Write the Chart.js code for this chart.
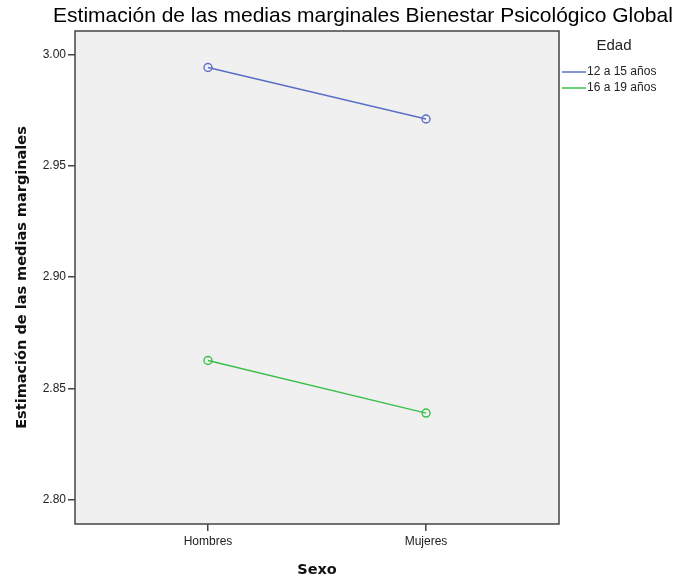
<!DOCTYPE html>
<html>
<head>
    <meta charset="utf-8">
    <title>Estimación de las medias marginales</title>
    <script src="https://cdn.jsdelivr.net/npm/chart.js@4/dist/chart.umd.min.js"></script>
    <style>
        body { margin: 0; background: #fff; }
        #wrap { width: 678px; height: 577px; }
    </style>
</head>
<body>
    <div id="wrap"><canvas id="medias"></canvas></div>
    <script>
        // datos
        var sexo = ['Hombres', 'Mujeres'];
        var edad = ['12 a 15 años', '16 a 19 años'];
        var medias1215 = [2.9941, 2.9710];
        var medias1619 = [2.8626, 2.8390];
        var yTicks = [2.80, 2.85, 2.90, 2.95, 3.00];
        var colores = ['#5a6fc6', '#3cbf4a'];

        var titulo = 'Estimación de las medias marginales Bienestar Psicológico Global';
        var txtFont = '"Liberation Sans", Arial, sans-serif';

        function puntos(vals) {
            return vals.map(function (v, i) { return { x: i, y: v }; });
        }

        var series = [medias1215, medias1619].map(function (vals, i) {
            return {
                label: edad[i],
                data: puntos(vals),
                borderColor: colores[i],
                backgroundColor: 'rgba(0,0,0,0)',
                borderWidth: 1.4,
                pointRadius: 4,
                pointBorderWidth: 1.4,
                pointHoverRadius: 4,
                tension: 0
            };
        });

        // fondo gris, marco, titulo y leyenda al estilo SPSS
        var decorado = {
            id: 'decorado',
            beforeDraw: function (chart) {
                var a = chart.chartArea, ctx = chart.ctx;
                ctx.save();
                ctx.fillStyle = '#f0f0f0';
                ctx.fillRect(a.left, a.top, a.right - a.left, a.bottom - a.top);
                ctx.restore();
            },
            afterDraw: function (chart) {
                var a = chart.chartArea, ctx = chart.ctx;
                ctx.save();
                ctx.strokeStyle = '#444';
                ctx.lineWidth = 1.5;
                ctx.strokeRect(a.left, a.top, a.right - a.left, a.bottom - a.top);

                ctx.fillStyle = '#000';
                ctx.font = '21px ' + txtFont;
                ctx.textAlign = 'center';
                ctx.textBaseline = 'middle';
                ctx.fillText(titulo, 363, 16);

                // leyenda
                ctx.fillStyle = '#222';
                ctx.font = '15px ' + txtFont;
                ctx.fillText('Edad', 614, 46);
                ctx.font = '12px ' + txtFont;
                ctx.textAlign = 'left';
                chart.data.datasets.forEach(function (ds, i) {
                    var y = 72 + i * 16;
                    ctx.strokeStyle = ds.borderColor;
                    ctx.lineWidth = 1.5;
                    ctx.beginPath();
                    ctx.moveTo(562, y);
                    ctx.lineTo(586, y);
                    ctx.stroke();
                    ctx.fillText(ds.label, 587, y);
                });
                ctx.restore();
            }
        };

        var ctx = document.getElementById('medias').getContext('2d');
        var grafico = new Chart(ctx, {
            type: 'line',
            data: { datasets: series },
            options: {
                responsive: true,
                maintainAspectRatio: false,
                animation: false,
                layout: { padding: { top: 31, right: 119, left: 0, bottom: 0 } },
                plugins: {
                    legend: { display: false },
                    tooltip: { enabled: false }
                },
                scales: {
                    x: {
                        type: 'linear',
                        min: -0.61,
                        max: 1.61,
                        afterBuildTicks: function (s) {
                            s.ticks = sexo.map(function (n, i) { return { value: i }; });
                        },
                        afterFit: function (s) { s.height = 53; },
                        grid: { drawOnChartArea: false, drawTicks: true, tickLength: 7, tickColor: '#444', lineWidth: 1.5 },
                        border: { display: false },
                        ticks: {
                            color: '#222',
                            padding: 3,
                            font: { family: txtFont, size: 12 },
                            callback: function (v) { return sexo[v]; }
                        },
                        title: {
                            display: true,
                            text: 'Sexo',
                            color: '#111',
                            font: { family: '"DejaVu Sans", sans-serif', size: 14.5, weight: 'bold', lineHeight: 1 },
                            padding: { top: 0, bottom: 0 }
                        }
                    },
                    y: {
                        min: 2.7892,
                        max: 3.0105,
                        afterBuildTicks: function (s) {
                            s.ticks = yTicks.map(function (v) { return { value: v }; });
                        },
                        afterFit: function (s) { s.width = 75; },
                        grid: { drawOnChartArea: false, drawTicks: true, tickLength: 7, tickColor: '#444', lineWidth: 1.5 },
                        border: { display: false },
                        ticks: {
                            color: '#222',
                            padding: 2,
                            font: { family: txtFont, size: 12 },
                            callback: function (v) { return v.toFixed(2); }
                        },
                        title: {
                            display: true,
                            text: 'Estimación de las medias marginales',
                            color: '#111',
                            font: { family: '"DejaVu Sans", sans-serif', size: 14.5, weight: 'bold' },
                            padding: { top: 14, bottom: 0 }
                        }
                    }
                }
            },
            plugins: [decorado]
        });
    </script>
</body>
</html>
